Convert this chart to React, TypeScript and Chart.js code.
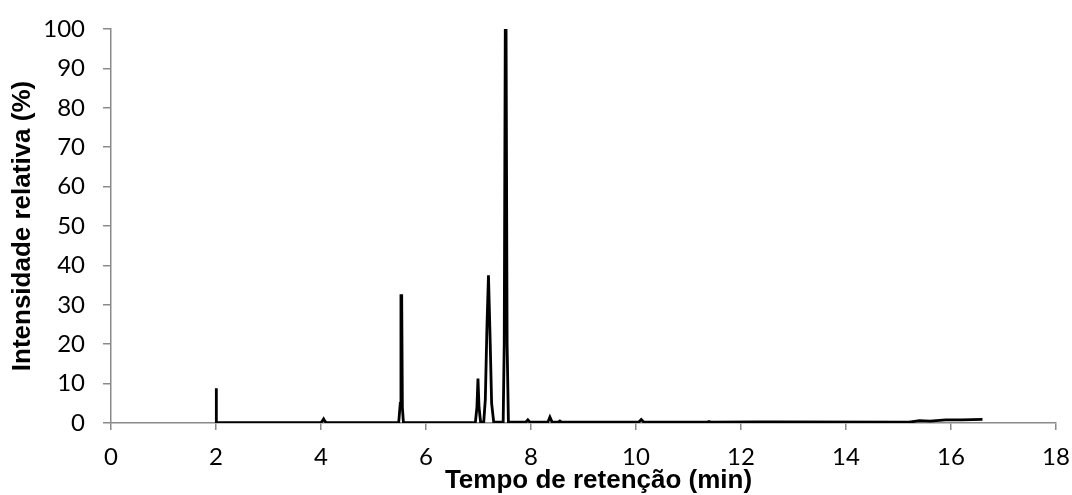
import React, { useEffect, useRef } from "react";
import { Chart, registerables } from "chart.js";

Chart.register(...registerables);

// Retention time (min) and relative intensity (%)
const retentionTimes: number[] = [
  2.0, 2.003, 2.01,
  4.0, 4.03, 4.05, 4.07, 4.1,
  5.48, 5.51, 5.523, 5.537, 5.55, 5.57,
  6.94, 6.97, 6.99, 7.01, 7.04,
  7.1, 7.13, 7.16, 7.19, 7.22, 7.25, 7.29,
  7.47, 7.49, 7.51, 7.525, 7.545, 7.57,
  7.9, 7.94, 7.98,
  8.32, 8.36, 8.4,
  8.52, 8.55, 8.58,
  10.05, 10.1, 10.15,
  11.35, 11.39, 11.43,
  12.3, 12.6,
  15.2, 15.4, 15.6, 15.9, 16.2, 16.6,
];
const relativeIntensity: number[] = [
  0.0, 8.8, 0.1,
  0.1, 0.6, 1.0, 0.5, 0.1,
  0.1, 5, 32.3, 32.3, 4, 0.1,
  0.1, 4, 11.3, 4, 0.2,
  0.3, 6, 24, 37.5, 22, 5, 0.2,
  0.2, 20, 100, 100, 20, 0.2,
  0.2, 0.8, 0.2,
  0.2, 1.5, 0.3,
  0.2, 0.5, 0.2,
  0.2, 0.9, 0.2,
  0.2, 0.4, 0.2,
  0.3, 0.3,
  0.2, 0.6, 0.5, 0.8, 0.8, 0.9,
];

const xTickValues: number[] = [0, 2, 4, 6, 8, 10, 12, 14, 16, 18];
const yTickValues: number[] = [0, 10, 20, 30, 40, 50, 60, 70, 80, 90, 100];

const X_TITLE = "Tempo de retenção (min)";
const Y_TITLE = "Intensidade relativa (%)";

const AXIS_COLOR = "#8a8a8a";
const TICK_FONT = { family: "Lato, 'Open Sans', sans-serif", size: 24 };
const TITLE_FONT_CSS = "bold 26px 'Liberation Sans', Arial, sans-serif";

const xTitlePlugin = {
  id: "xTitlePlugin",
  afterDraw(chart: any) {
    const { ctx, chartArea } = chart;
    ctx.save();
    ctx.font = TITLE_FONT_CSS;
    ctx.fillStyle = "#000";
    ctx.textAlign = "center";
    ctx.textBaseline = "alphabetic";
    ctx.fillText(X_TITLE, (chartArea.left + chartArea.right) / 2 + 15, chart.height - 7);
    ctx.restore();
  },
};

export default function App() {
  const canvasRef = useRef<HTMLCanvasElement | null>(null);

  useEffect(() => {
    if (!canvasRef.current) return;
    const points = retentionTimes.map((t, i) => ({ x: t, y: relativeIntensity[i] }));
    const chart = new Chart(canvasRef.current, {
      type: "line",
      data: {
        datasets: [
          {
            data: points,
            borderColor: "#000",
            borderWidth: 2.8,
            pointRadius: 0,
            tension: 0,
            fill: false,
          },
        ],
      },
      options: {
        animation: false,
        responsive: false,
        maintainAspectRatio: false,
        layout: { padding: { top: 29, right: 16, left: 0, bottom: 0 } },
        plugins: {
          legend: { display: false },
          tooltip: { enabled: false },
        },
        scales: {
          x: {
            type: "linear",
            min: 0,
            max: 18,
            afterBuildTicks: (scale: any) => {
              scale.ticks = xTickValues.map((v) => ({ value: v }));
            },
            afterFit: (scale: any) => {
              scale.height = 72;
              scale.paddingLeft = 0;
              scale.paddingRight = 0;
            },
            grid: {
              drawOnChartArea: false,
              drawTicks: true,
              tickLength: 7,
              color: AXIS_COLOR,
              lineWidth: 1.5,
            },
            border: { color: AXIS_COLOR, width: 1.5 },
            ticks: {
              color: "#000",
              font: TICK_FONT,
              padding: 13,
              maxRotation: 0,
              autoSkip: false,
            },
          },
          y: {
            type: "linear",
            min: 0,
            max: 100,
            afterBuildTicks: (scale: any) => {
              scale.ticks = yTickValues.map((v) => ({ value: v }));
            },
            afterFit: (scale: any) => {
              scale.width = 111;
              scale.paddingTop = 0;
              scale.paddingBottom = 0;
            },
            grid: {
              drawOnChartArea: false,
              drawTicks: true,
              tickLength: 8,
              color: AXIS_COLOR,
              lineWidth: 1.5,
            },
            border: { color: AXIS_COLOR, width: 1.5 },
            ticks: {
              color: "#000",
              font: TICK_FONT,
              padding: 18,
              autoSkip: false,
            },
            title: {
              display: true,
              text: Y_TITLE,
              color: "#000",
              font: { family: "'Liberation Sans', Arial, sans-serif", size: 26, weight: "bold", lineHeight: 1.2 },
              padding: { top: 7, bottom: 0 },
            },
          },
        },
      },
      plugins: [xTitlePlugin],
    });
    return () => chart.destroy();
  }, []);

  return (
    <div style={{ position: "absolute", left: 0, top: 0, width: 1072, height: 495, background: "#fff" }}>
      <canvas ref={canvasRef} width={1072} height={495} />
    </div>
  );
}
